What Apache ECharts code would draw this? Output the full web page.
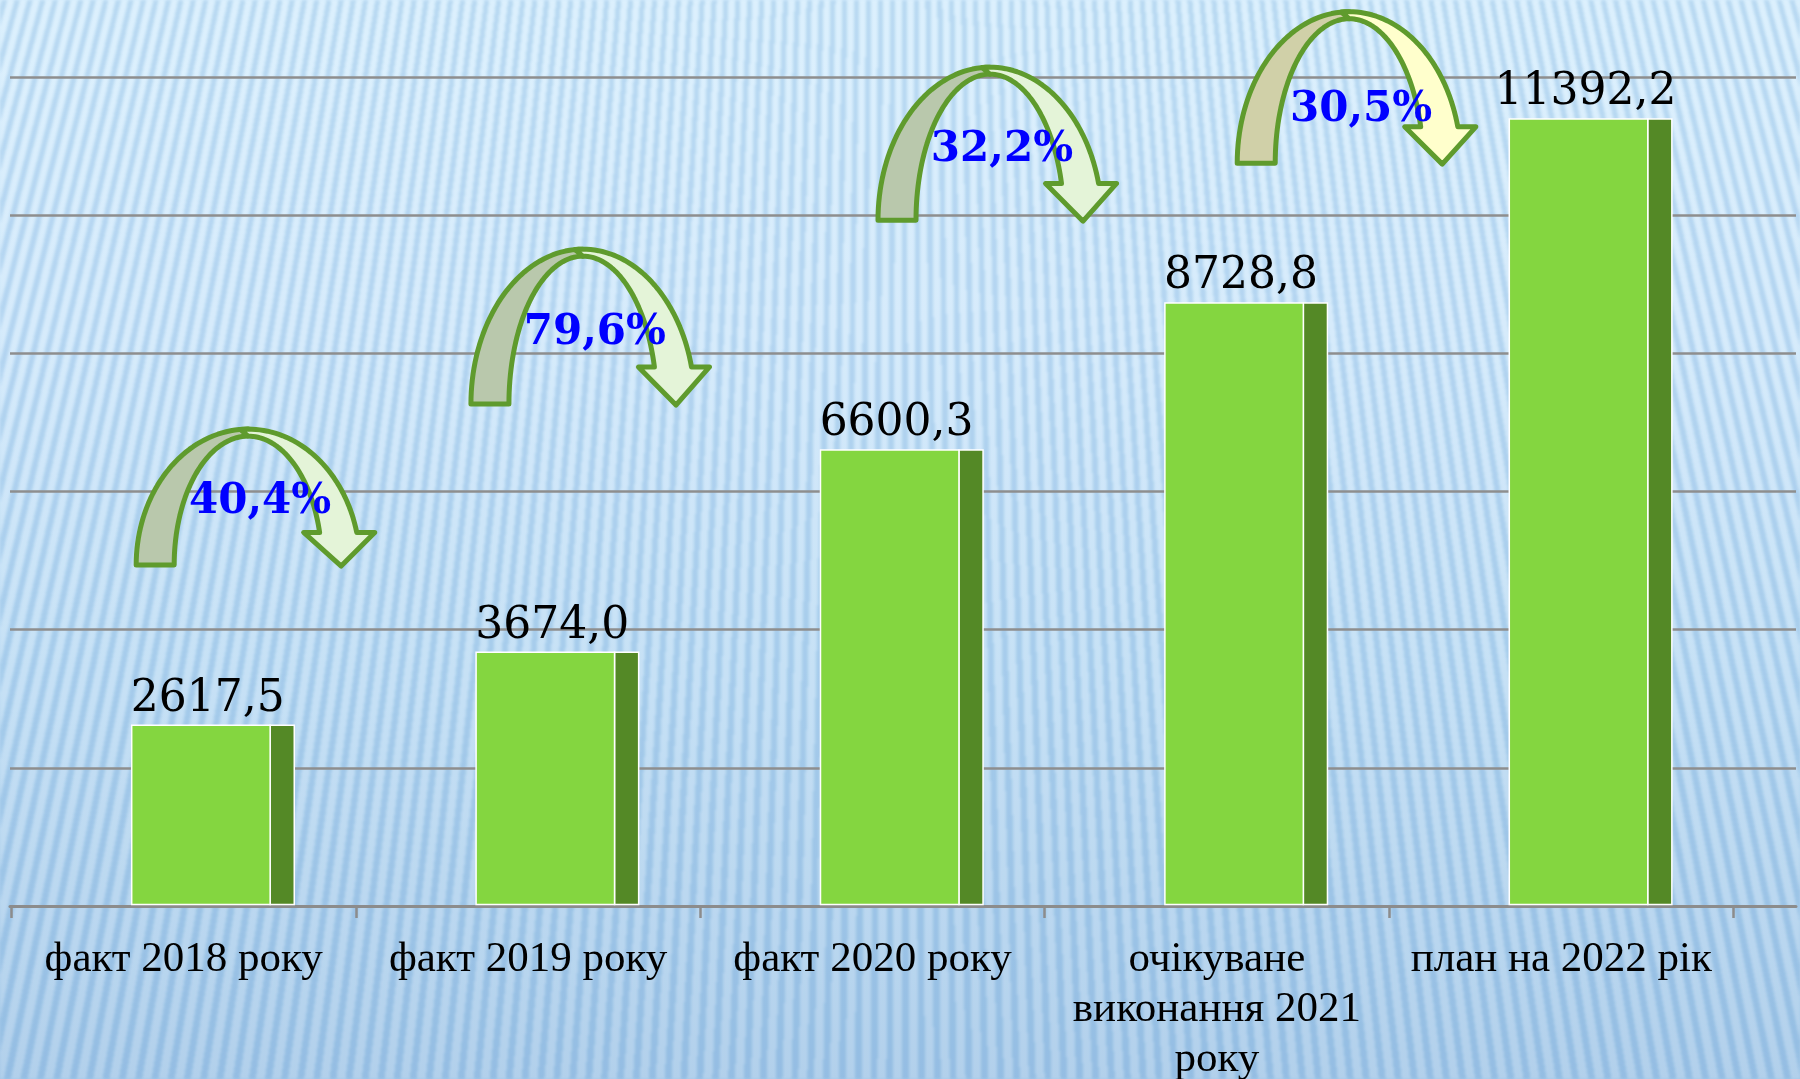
<!DOCTYPE html>
<html>
<head>
    <meta charset="utf-8">
    <script src="https://cdn.jsdelivr.net/npm/echarts@6/dist/echarts.min.js"></script>
    <style>
        html, body { margin: 0; padding: 0; }
        #wrap {
            position: relative; width: 1800px; height: 1079px; overflow: hidden;
            background: linear-gradient(to bottom, #d6eefd 0%, #cfe8fb 30%, #bcdcf4 62%, #a4c8e8 100%);
        }
        #stripes {
            position: absolute; left: 0; top: 0; width: 1800px; height: 1079px;
            background: repeating-conic-gradient(from 0deg at 50% -300%,
                rgba(255, 255, 255, 0.16) 0deg 0.12deg,
                rgba(105, 160, 212, 0.27) 0.12deg 0.21deg);
            filter: blur(1.6px);
        }
        #main { position: absolute; left: 0; top: 0; width: 1800px; height: 1079px; }
    </style>
</head>
<body>
    <div id="wrap">
        <div id="stripes"></div>
        <div id="main"></div>
    </div>
    <script type="text/javascript">
        // дані
        var categories = ['факт 2018 року', 'факт 2019 року', 'факт 2020 року', 'очікуване\nвиконання 2021\nроку', 'план на 2022 рік'];
        var values = [2617.5, 3674.0, 6600.3, 8728.8, 11392.2];
        var growth = ['40,4%', '79,6%', '32,2%', '30,5%'];

        // де стоять стрілки: [категорія, зсув у ширинах категорії, низ (значення), верх (значення), висота тексту]
        var arrowLayout = [
            [0, 0.187, 4935, 6903, 0.54],
            [1, 0.159, 7265, 9508, 0.54],
            [2, 0.341, 9928, 12142, 0.54],
            [3, 0.384, 10753, 12945, 0.65]
        ];
        var arrowColors = [
            ['#b9c8ac', '#e4f4d8'],
            ['#b9c8ac', '#e4f4d8'],
            ['#b9c8ac', '#e4f4d8'],
            ['#d0d0a8', '#ffffcc']
        ];

        var myChart = echarts.init(document.getElementById('main'));

        function fmt(v) {
            return v.toFixed(1).replace('.', ',');
        }

        function renderBar(params, api) {
            var i = api.value(0), v = api.value(1);
            var top = api.coord([i, v]);
            var base = api.coord([i, 0]);
            var w = api.size([1, 0])[0];
            var x0 = top[0] - 0.151 * w;
            var x1 = top[0] + 0.251 * w;
            var x2 = top[0] + 0.321 * w;
            var h = base[1] - top[1] - 1.5;
            return {
                type: 'group',
                children: [
                    { type: 'rect', shape: { x: x1, y: top[1], width: x2 - x1, height: h },
                      style: { fill: '#548926', stroke: '#ffffff', lineWidth: 1.5 } },
                    { type: 'rect', shape: { x: x0, y: top[1], width: x1 - x0, height: h },
                      style: { fill: '#84d640', stroke: '#ffffff', lineWidth: 1.5 } },
                    { type: 'text', style: { text: fmt(v), x: top[0] + 0.07 * w, y: top[1] - 4,
                      align: 'center', verticalAlign: 'bottom', fontSize: 44,
                      fontFamily: 'DejaVu Serif', fill: '#000000' } }
                ]
            };
        }

        function renderArrow(params, api) {
            var n = params.dataIndex;
            var L = arrowLayout[n];
            var w = api.size([1, 0])[0];
            var b = api.coord([L[0], L[2]]);
            var t = api.coord([L[0], L[3]]);
            var cx = b[0] + L[1] * w, by = b[1];
            var ry = by - t[1];
            var rxo = 0.325 * w, rxi = rxo - 38, ryi = ry - 7;
            function pt(rx, r2, a) { return [cx + rx * Math.cos(a), by - r2 * Math.sin(a)]; }

            // ліва (задня) частина
            var left = [], k;
            for (k = 0; k <= 40; k++) left.push(pt(rxo, ry, Math.PI - k / 40 * Math.PI / 2));
            for (k = 40; k >= 0; k--) left.push(pt(rxi, ryi, Math.PI - k / 40 * Math.PI / 2));

            // права частина зі стрілкою
            var lvl = 0.24;
            var ao = Math.asin(lvl), ai = Math.asin(lvl * ry / ryi);
            var a0 = Math.PI / 2 + 0.07;
            var right = [];
            for (k = 0; k <= 40; k++) right.push(pt(rxo, ry, a0 - k / 40 * (a0 - ao)));
            var po = pt(rxo, ry, ao), pi = pt(rxi, ryi, ai);
            var yw = po[1];
            right.push([po[0] + 18, yw]);
            right.push([(po[0] + pi[0]) / 2 + 3, by + 1]);
            right.push([pi[0] - 16, yw]);
            for (k = 0; k <= 40; k++) right.push(pt(rxi, ryi, ai + k / 40 * (Math.PI / 2 - ai)));

            var c = arrowColors[n];
            return {
                type: 'group',
                children: [
                    { type: 'polygon', shape: { points: left },
                      style: { fill: c[0], stroke: '#5f9b2d', lineWidth: 5, lineJoin: 'round' } },
                    { type: 'polygon', shape: { points: right },
                      style: { fill: c[1], stroke: '#5f9b2d', lineWidth: 5, lineJoin: 'round' } },
                    { type: 'text', style: { text: growth[n], x: cx + 12, y: t[1] + L[4] * ry,
                      align: 'center', verticalAlign: 'middle', fontSize: 42, fontWeight: 'bold',
                      fontFamily: 'DejaVu Serif', fill: '#0000ff' } }
                ]
            };
        }

        var option = {
            backgroundColor: 'transparent',
            animation: false,
            grid: [
                { left: 10, right: 4, top: 77, bottom: 173, outerBoundsMode: 'none', containLabel: false },
                { left: 11.5, width: 1722, top: 77, bottom: 173, outerBoundsMode: 'none', containLabel: false }
            ],
            xAxis: [{
                type: 'value', gridIndex: 0, min: 0, max: 1,
                axisLine: { show: true, lineStyle: { color: '#8c8c8c', width: 3 } },
                axisTick: { show: false }, axisLabel: { show: false }, splitLine: { show: false }
            }, {
                type: 'category', gridIndex: 1, data: categories,
                axisLine: { show: false },
                axisTick: { show: true, length: 12, lineStyle: { color: '#8c8c8c', width: 2.5 } },
                axisLabel: {
                    interval: 0, margin: 29, color: '#000000', fontSize: 43,
                    fontFamily: 'Liberation Serif', lineHeight: 50, align: 'center'
                }
            }],
            yAxis: [{
                type: 'value', gridIndex: 0, min: 0, max: 12000, interval: 2000,
                axisLine: { show: false }, axisTick: { show: false }, axisLabel: { show: false },
                splitLine: { show: true, lineStyle: { color: '#8e8e8e', width: 2.5 } }
            }, {
                type: 'value', gridIndex: 1, min: 0, max: 12000, interval: 2000, show: false
            }],
            series: [{
                type: 'custom', xAxisIndex: 1, yAxisIndex: 1,
                data: values.map(function (v, i) { return [i, v]; }),
                renderItem: renderBar
            }, {
                type: 'custom', xAxisIndex: 1, yAxisIndex: 1, clip: false,
                data: growth.map(function (g, i) { return [i, 0]; }),
                renderItem: renderArrow
            }]
        };
        myChart.setOption(option);
    </script>
</body>
</html>
